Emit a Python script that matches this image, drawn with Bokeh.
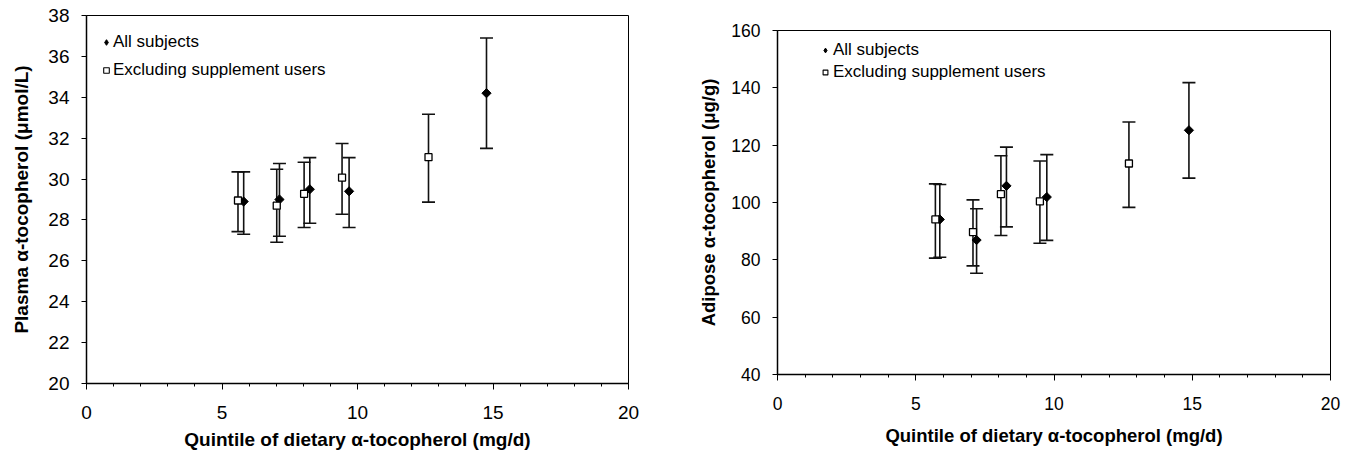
from bokeh.plotting import figure
from bokeh.models import (ColumnDataSource, Whisker, TeeHead, FixedTicker,
                          Legend, LegendItem, Range1d, Spacer)
from bokeh.layouts import row, column
from bokeh.embed import file_html
from bokeh.resources import INLINE
import numpy as np

# ---------------- data ----------------
x_ticks = [0, 5, 10, 15, 20]
x_minor = list(range(0, 21))

plasma_ticks = [20, 22, 24, 26, 28, 30, 32, 34, 36, 38]
plasma_all_x = [5.80, 7.12, 8.24, 9.69, 14.76]
plasma_all_y = [28.9, 29.0, 29.5, 29.4, 34.2]
plasma_all_hi = [30.35, 30.76, 31.05, 31.05, 36.9]
plasma_all_lo = [27.3, 27.2, 27.84, 27.63, 31.5]
plasma_ex_x = [5.59, 7.02, 8.03, 9.43, 12.62]
plasma_ex_y = [28.95, 28.7, 29.28, 30.07, 31.07]
plasma_ex_hi = [30.35, 30.48, 30.82, 31.74, 33.17]
plasma_ex_lo = [27.43, 26.91, 27.63, 28.28, 28.87]

adipose_ticks = [40, 60, 80, 100, 120, 140, 160]
adipose_all_x = [5.87, 7.20, 8.28, 9.74, 14.88]
adipose_all_y = [94.1, 86.9, 105.8, 101.9, 125.2]
adipose_all_hi = [106.3, 97.8, 119.3, 116.7, 141.8]
adipose_all_lo = [80.9, 75.3, 91.5, 86.8, 108.5]
adipose_ex_x = [5.71, 7.07, 8.08, 9.49, 12.71]
adipose_ex_y = [94.1, 89.7, 102.9, 100.4, 113.6]
adipose_ex_hi = [106.5, 100.9, 116.3, 114.5, 128.1]
adipose_ex_lo = [80.6, 77.9, 88.5, 85.8, 98.3]

x_title = "Quintile of dietary \u03b1-tocopherol (mg/d)"
plasma_title = "Plasma \u03b1-tocopherol (\u03bcmol/L)"
adipose_title = "Adipose \u03b1-tocopherol (\u03bcg/g)"
label_all = "All subjects"
label_ex = "Excluding supplement users"

FONT = "Liberation Sans"


def make_fig(ax, ay, ahi, alo, ex, ey, ehi, elo, yticks, ytitle,
             fw, fh, mbl, mbr, mbt, mbb, tick_fs, title_fs,
             x_lab_so, x_title_so, y_lab_so, y_title_so, legend_cfg):
    p = figure(frame_width=fw, frame_height=fh,
               x_range=Range1d(0, 20), y_range=Range1d(yticks[0], yticks[-1]),
               output_backend="svg", toolbar_location=None,
               min_border_left=mbl, min_border_right=mbr,
               min_border_top=mbt, min_border_bottom=mbb)
    p.grid.visible = False
    p.outline_line_color = "black"
    p.outline_line_width = 1
    p.background_fill_color = "white"
    p.border_fill_color = "white"

    for ax_ in (p.xaxis[0], p.yaxis[0]):
        ax_.axis_line_color = "black"
        ax_.axis_line_width = 1.5
        ax_.major_tick_line_color = "black"
        ax_.major_tick_in = 0
        ax_.major_label_text_font = FONT
        ax_.major_label_text_font_size = tick_fs
        ax_.major_label_text_color = "black"
        ax_.axis_label_text_font = FONT
        ax_.axis_label_text_font_size = title_fs
        ax_.axis_label_text_font_style = "bold"
        ax_.axis_label_text_color = "black"

    p.xaxis.ticker = FixedTicker(ticks=x_ticks, minor_ticks=x_minor)
    p.xaxis.major_tick_out = 6
    p.xaxis.minor_tick_out = 3
    p.xaxis.minor_tick_in = 0
    p.xaxis.minor_tick_line_color = "black"
    p.xaxis.major_label_standoff = x_lab_so
    p.xaxis.axis_label = x_title
    p.xaxis.axis_label_standoff = x_title_so

    p.yaxis.ticker = FixedTicker(ticks=yticks)
    p.yaxis.major_tick_out = 5
    p.yaxis.minor_tick_line_color = None
    p.yaxis.major_label_standoff = y_lab_so
    p.yaxis.axis_label = ytitle
    p.yaxis.axis_label_standoff = y_title_so

    src_all = ColumnDataSource(dict(x=ax, y=ay, hi=ahi, lo=alo))
    src_ex = ColumnDataSource(dict(x=ex, y=ey, hi=ehi, lo=elo))

    for src in (src_all, src_ex):
        w = Whisker(base="x", upper="hi", lower="lo", source=src,
                    line_color="#111111", line_width=1.6,
                    upper_head=TeeHead(size=13, line_color="#111111", line_width=1.6),
                    lower_head=TeeHead(size=13, line_color="#111111", line_width=1.6))
        p.add_layout(w)

    p.scatter("x", "y", source=src_all, marker="square", angle=np.pi / 4,
              size=6.5, fill_color="black", line_color="black")
    p.scatter("x", "y", source=src_ex, marker="square", size=7,
              fill_color="white", line_color="black", line_width=1.3)

    # legend-only glyphs (a single NaN point, never drawn in the plot area)
    leg_src = ColumnDataSource(dict(x=[np.nan], y=[np.nan]))
    r_leg_all = p.scatter("x", "y", source=leg_src, marker="diamond", size=10,
                          fill_color="black", line_color="black")
    r_leg_ex = p.scatter("x", "y", source=leg_src, marker="square", size=6,
                         fill_color="white", line_color="black", line_width=1.1)

    leg = Legend(items=[LegendItem(label=label_all, renderers=[r_leg_all], index=0),
                        LegendItem(label=label_ex, renderers=[r_leg_ex], index=0)],
                 background_fill_alpha=0, border_line_alpha=0,
                 label_text_font=FONT, label_text_font_size="17px",
                 label_text_color="black", **legend_cfg)
    p.add_layout(leg)
    return p


p1 = make_fig(plasma_all_x, plasma_all_y, plasma_all_hi, plasma_all_lo,
              plasma_ex_x, plasma_ex_y, plasma_ex_hi, plasma_ex_lo,
              plasma_ticks, plasma_title,
              fw=542, fh=368, mbl=86, mbr=62, mbt=15, mbb=70,
              tick_fs="19px", title_fs="19px",
              x_lab_so=16, x_title_so=7, y_lab_so=12, y_title_so=13,
              legend_cfg=dict(location="top_left", margin=0, padding=13,
                              glyph_width=14, glyph_height=28, label_height=28,
                              label_standoff=0, spacing=0))

p2 = make_fig(adipose_all_x, adipose_all_y, adipose_all_hi, adipose_all_lo,
              adipose_ex_x, adipose_ex_y, adipose_ex_hi, adipose_ex_lo,
              adipose_ticks, adipose_title,
              fw=553, fh=344, mbl=87, mbr=15, mbt=15, mbb=79,
              tick_fs="17.5px", title_fs="18.5px",
              x_lab_so=16, x_title_so=12, y_lab_so=12, y_title_so=9,
              legend_cfg=dict(location=(37, 286), margin=0, padding=5,
                              glyph_width=12, glyph_height=22, label_height=22,
                              label_standoff=2, spacing=0))

layout = row(p1, column(Spacer(width=655, height=15), p2))
open("out.html", "w").write(file_html(layout, INLINE))
